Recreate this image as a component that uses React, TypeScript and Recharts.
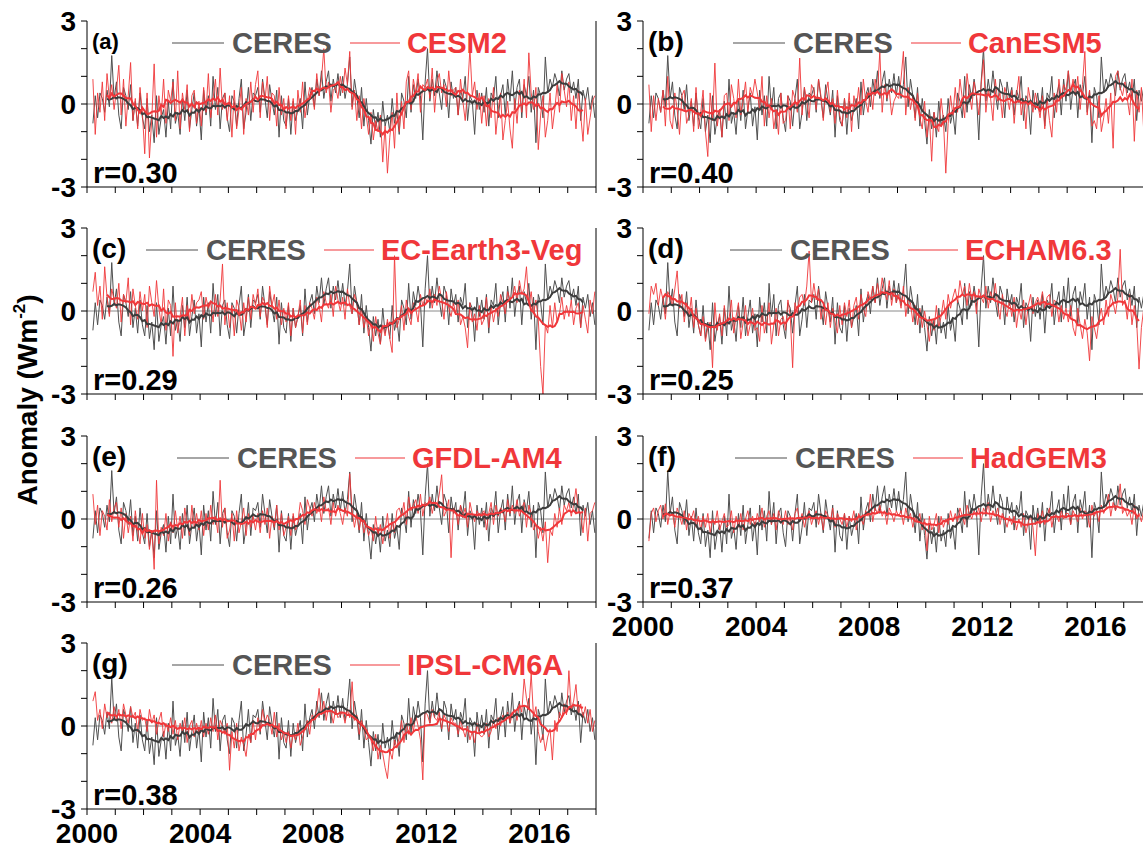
import { LineChart, Line, XAxis, YAxis, ReferenceLine } from "recharts"

// monthly anomalies, March 2000 .. December 2017
const START_YEAR = 2000
const START_MONTH = 3

const yearTicks = [
  2000, 2001, 2002, 2003, 2004, 2005, 2006, 2007, 2008, 2009, 2010, 2011, 2012,
  2013, 2014, 2015, 2016, 2017, 2018,
]
const yearLabels = [2000, 2004, 2008, 2012, 2016]
const anomalyTicks = [-3, -2, -1, 0, 1, 2, 3]
const anomalyLabels = [-3, 0, 3]

const panelLetters = ["(a)", "(b)", "(c)", "(d)", "(e)", "(f)", "(g)"]
const modelNames = ["CESM2", "CanESM5", "EC-Earth3-Veg", "ECHAM6.3", "GFDL-AM4", "HadGEM3", "IPSL-CM6A"]
const correlations = ["0.30", "0.40", "0.29", "0.25", "0.26", "0.37", "0.38"]

const ceres = [
  -0.7, 0.3, -0.5, 0.4, 0.2, -0.3, 0.5, -0.1, 1.75, 0.2,
  0.8, -0.4, -0.9, 0.6, 0.3, -0.2, 0.7, -0.6, 0.1, -0.8, 0.4, -0.5,
  -0.9, 0.2, -1.0, -0.4, -1.4, 0.3, -1.1, -0.5, -0.2, -1.2, 0.1, -0.9,
  0.9, -0.7, -0.3, -1.1, 0.2, -0.6, 0.5, -0.9, -0.2, 0.4, -0.8, -0.1,
  -1.3, 0.5, -0.4, 0.3, -0.8, 1.0, -0.2, 0.6, -0.9, 0.2, 0.4, -0.5,
  -1.0, 0.3, 0.1, -0.8, 0.2, 0.9, -0.9, -0.3, 0.6, -0.6, 0.4, 0.3,
  0.6, -0.3, 0.9, 0.2, -0.5, 0.7, 0.1, -0.4, 0.5, -1.2, 0.3, -0.6,
  -0.8, 0.2, -1.1, 0.1, -0.6, -0.2, 0.2, -0.9, 0.8, -0.4, 0.3, 0.6,
  -0.1, 0.9, 0.3, 1.2, 0.2, 0.8, 1.2, 0.1, 0.9, 0.4, 1.1, 0.3,
  1.0, 0.2, 0.7, 1.7, -0.1, 0.9, 0.3, -0.5, 0.6, -0.8, 0.2, -0.6,
  -1.45, -0.2, -0.9, -0.3, -1.2, 0.1, -0.8, -0.4, -1.0, 0.2, -0.7, -0.3,
  -1.1, 0.4, 0.1, -0.5, 1.0, -0.3, 0.7, 0.2, 0.9, 0.3, -1.3, 0.8,
  2.0, 0.1, 0.9, 0.3, 1.2, 0.4, -0.2, 0.9, 0.6, -0.5, 0.8, 0.2,
  0.6, -0.4, 0.5, 0.2, 1.0, -0.6, 0.3, 0.1, -1.1, 0.5, -0.2, 0.4,
  -0.3, 0.6, -0.8, 0.4, 0.2, 1.0, -0.5, 0.3, 0.7, -0.4, 0.9, 0.1,
  1.2, -0.2, 0.6, 0.9, -0.5, 0.7, 0.3, 1.0, -0.3, 0.5, -1.4, 0.6,
  0.3, -0.5, 1.7, 0.4, 0.9, 0.6, 1.1, 0.8, 0.3, 1.2, 0.5, 0.9,
  1.1, 0.4, 0.8, 0.2, 0.9, -0.6, 0.5, 0.1, 0.6, -0.2, 0.3, -0.5,
]

const cesm2 = [
  0.9, -1.1, 0.4, -0.3, 0.8, -0.6, 1.1, 0.2, 0.7, -0.2,
  0.5, 1.4, -0.4, 0.9, -0.8, 0.3, 1.5, -0.6, 0.2, -0.9, 0.6, -0.3,
  -1.8, 0.4, -1.95, -0.5, 1.45, -1.2, 0.3, -0.4, 0.9, -0.7, 0.5, 0.1,
  0.8, -0.6, 1.2, -0.9, 0.4, -0.2, 0.7, -1.0, 0.3, 0.5, -0.7, 0.1,
  -0.8, 0.6, -0.3, 1.1, -0.5, 0.2, 0.9, -0.4, 1.3, -0.2, 0.4, -0.6,
  0.3, -1.2, 0.5, -0.9, -0.2, 0.6, -1.1, 0.2, -0.4, 0.8, -0.3, 0.7,
  1.2, -0.5, 0.8, 0.1, 1.0, -0.6, 0.4, 0.3, -0.8, 0.6, -0.4, 0.2,
  -0.9, 0.3, -0.6, 0.2, -1.1, 0.5, -0.3, 0.8, -0.5, 0.1, 0.6, 0.4,
  -0.2, 1.1, 0.3, 0.9, 2.0, 0.4, 0.8, -0.3, 0.5, 0.6, 0.2, 1.0,
  0.4, 1.3, 0.7, 1.9, -0.2, 0.5, -0.6, 0.3, -0.9, 0.2, -0.4, -1.1,
  -0.3, -1.3, -0.6, -1.0, -0.4, -2.1, -0.8, -2.5, -1.2, -0.3, -1.6, 0.4,
  -1.0, 0.1, -0.9, 0.8, 1.2, -0.2, 0.9, 0.4, 1.1, -0.3, 0.7, 0.6,
  0.9, 0.2, 1.3, -0.3, 0.8, 1.1, 0.4, 0.7, -0.1, 1.2, 0.3, 0.5,
  0.6, -0.4, 0.9, 0.1, -0.6, 0.5, 2.0, 0.3, 0.8, -0.2, 0.4, -0.7,
  0.3, -0.8, 0.2, -0.5, 0.6, -1.1, -0.2, 0.4, -1.3, -0.6, 0.1, -0.9,
  -1.6, 0.2, -0.7, 0.5, -0.3, 0.9, -0.5, 1.85, 0.4, -0.2, 0.6, -1.65,
  -0.4, 0.3, -1.2, -0.6, 0.4, -0.9, -0.2, 0.7, -0.3, 1.1, 0.5, -0.1,
  0.8, -0.6, 0.3, -0.9, 0.5, -0.4, -1.35, 0.2, -1.1, -0.5, 0.1, 0.3,
]

const canesm5 = [
  0.7, -1.0, 0.3, -0.6, 0.2, -0.3, 0.5, -0.8, 1.0, -0.6,
  -0.9, 0.4, -0.2, -1.1, 0.3, 0.5, -0.7, -0.4, 0.2, -1.0, 0.6, -0.9,
  -0.3, 0.5, -1.0, -1.9, 0.4, -0.6, 1.48, -0.8, -0.2, -1.2, 0.3, 0.4,
  -0.6, 0.7, 0.2, -0.5, 0.9, -0.4, 0.1, 0.8, -0.3, 0.6, 0.3, 0.9,
  0.4, -0.2, 1.0, -0.8, 0.3, -0.5, 0.2, -0.9, -0.3, -1.1, 0.4, -0.7,
  -0.6, 0.3, -0.9, 0.5, 0.2, -0.3, 1.66, -0.4, 0.6, 0.1, -0.5, 0.7,
  0.5, -0.2, 0.9, 0.3, -0.6, 0.4, 0.8, -0.3, 0.2, -0.7, 0.5, -0.4,
  -0.8, 0.2, -0.5, 0.4, -1.0, 0.3, -0.2, 0.6, -0.4, 0.9, 0.1, -0.3,
  0.6, -0.2, 0.9, 0.4, 1.9, -0.3, 0.7, 0.2, 0.5, -0.4, 0.1, 0.3,
  0.2, 0.9, 1.9, -0.4, 0.6, -0.2, 0.3, -0.6, 0.4, -0.5, -0.9, 0.1,
  -1.2, -0.4, -2.07, -0.3, -0.8, -1.0, 0.2, -0.6, -2.5, -0.7, 0.3, -0.4,
  0.6, -0.3, 0.9, 0.2, -0.5, 1.1, 0.4, -0.2, 0.8, 0.3, -0.4, 0.7,
  1.6, -0.3, 0.5, 0.2, -0.6, 0.9, 0.1, 0.4, -0.5, 0.6, 0.3, -0.2,
  0.5, -0.7, 0.3, 1.0, -0.4, 0.2, -0.9, 0.6, 0.1, -0.3, 0.4, 0.0,
  -0.5, 0.3, -0.9, 0.2, -0.6, -1.2, 0.4, -0.3, 0.9, 0.2, 0.7, 0.5,
  1.2, 0.4, 0.9, 0.3, 1.0, -0.2, 0.7, 1.9, -0.4, 0.5, -0.8, -0.6,
  -0.9, 0.3, -1.0, -0.5, 0.2, -0.7, 0.4, -1.6, 1.0, 1.2, 0.6, 0.3,
  0.8, 0.2, -0.4, 0.9, -1.35, 0.5, -0.3, 0.6, -1.0, -0.8, -0.9, -0.6,
]

const ecEarth3Veg = [
  0.7, 1.4, 0.2, 0.9, -0.3, 1.6, 0.5, -0.2, 0.8, 0.4,
  0.1, 1.0, -0.4, 0.6, 0.3, 1.2, -0.5, 0.8, 0.2, -0.3, 0.7, 0.0,
  0.6, -0.6, 0.9, 0.3, -0.2, 1.1, 0.1, -0.5, 0.8, -0.7, 0.4, 0.2,
  -1.64, 0.3, -0.8, -0.2, 0.5, -0.9, 0.2, -0.4, 0.6, -0.1, 0.3, 0.4,
  0.7, -0.3, 0.5, 0.1, 0.3, -0.4, 0.6, -0.2, 0.4, 1.7, -0.5, 0.3,
  -0.6, 0.2, -0.9, 0.4, 0.1, -0.7, 0.3, -0.4, 0.5, -0.3, 0.6, 0.2,
  0.8, -0.2, 0.5, 0.3, -0.6, 0.9, 0.2, 0.6, -0.3, 0.4, -0.5, 0.1,
  -0.4, 0.3, -0.9, 0.1, -0.6, -0.2, 0.4, -0.8, 0.2, -0.5, 0.3, 0.1,
  -0.3, 0.5, 0.2, -0.4, 0.7, 0.3, 0.1, 0.6, -0.2, 0.9, 0.4, 0.0,
  0.5, -0.3, 0.8, 0.2, -0.1, 0.6, 0.3, -0.5, 0.1, -0.6, -0.2, -0.9,
  -0.4, -1.1, -0.2, -0.8, -1.2, -0.5, -0.9, -0.3, -1.0, -1.5, 2.0, -0.6,
  -0.3, 0.2, -0.7, 0.4, -0.2, -0.5, 0.3, 0.1, -0.4, 0.6, 0.2, 0.5,
  0.3, 0.8, 0.1, 0.6, 0.2, 0.9, 0.4, -0.3, 0.7, 0.1, -0.2, 0.3,
  -0.1, 0.4, -0.5, -0.2, -0.6, -1.33, 0.3, -0.4, -0.1, -0.7, 0.2, -0.5,
  -0.3, 0.5, -0.6, 0.2, -0.4, 0.1, -0.2, 0.6, 0.3, -0.1, 0.7, 0.4,
  0.5, 0.9, 0.3, 1.1, 0.6, 0.8, 1.6, 0.2, 0.7, -0.1, 0.4, -0.3,
  -2.0, -3.0, -0.5, -0.8, 0.2, -0.6, 0.3, -0.4, -0.1, 0.5, -0.3, 0.2,
  -0.2, 0.4, -0.5, 0.1, 0.3, -0.6, 0.2, -0.3, -0.8, 0.4, -0.1, 0.7,
]

const echam63 = [
  -0.1, 0.9, 0.6, 1.0, 0.2, 0.8, 0.4, -0.3, 0.7, 0.5,
  0.2, 0.8, 1.45, 0.1, 0.6, -0.4, 0.3, -0.2, 0.5, -0.6, 0.1, -0.5,
  -0.9, -0.2, -1.1, -0.6, -0.4, -2.05, 0.3, -0.7, -0.1, -0.9, 0.2, -0.5,
  -0.3, 0.4, -0.8, -0.2, 0.3, -1.0, -0.4, 0.2, -0.9, -0.5, 0.1, -0.7,
  -0.6, -1.1, 0.2, -0.8, -0.4, 0.3, -1.2, -0.5, 0.1, -0.9, -0.3, -0.2,
  -0.7, 0.4, -0.2, -2.05, 0.3, -0.1, 0.5, 0.6, 0.2, 0.9, 2.17, 0.3,
  1.0, 0.4, 0.8, -0.3, 0.2, -0.5, 0.3, -0.6, 0.1, -0.4, -0.8, 0.2,
  -0.5, 0.3, -0.2, 0.4, -0.6, 0.2, 0.5, -0.3, 0.6, 0.1, -0.2, 0.7,
  0.4, 0.9, 0.3, 1.0, 0.5, 1.2, 0.7, 0.4, 1.1, 0.2, 0.8, 0.3,
  0.6, 0.1, 0.9, -0.2, 0.4, 0.3, -0.4, 0.2, -0.5, 0.1, -0.6, 0.0,
  -0.5, -1.1, -0.3, -0.7, 0.2, -0.6, -0.2, 0.4, -0.3, 0.6, 0.1, 0.5,
  0.8, 0.3, 1.1, 0.6, 0.9, 0.2, 1.0, 0.4, 0.7, -0.1, 0.8, 0.5,
  0.3, 0.9, 0.1, 0.7, 0.4, 1.0, 0.2, -0.3, 0.6, 0.1, -0.2, 0.4,
  -0.2, 0.5, -0.6, 0.1, -0.3, 0.4, -0.5, 0.2, 0.6, -0.1, 0.3, 0.5,
  0.2, 0.7, 0.1, 0.5, 0.6, -0.2, 0.4, 0.3, -0.4, 0.2, -0.3, 0.1,
  -0.4, 0.2, -0.6, -0.9, 0.1, -0.5, -1.0, -0.3, -0.8, -1.8, -0.2, -0.6,
  -1.0, -0.3, 0.1, -0.5, 0.4, -0.2, 0.6, 0.3, -0.1, 0.5, 2.23, 0.2,
  0.4, -0.3, 0.6, -0.5, 0.2, -0.4, -2.1, -0.6, 0.1, -0.5, -0.3, -0.9,
]

const gfdlAm4 = [
  0.9, -0.2, 0.5, -0.6, 0.3, 0.1, -0.4, 0.7, -0.1, 0.4,
  0.6, -0.3, 0.4, -0.7, 0.2, -0.5, 0.1, -0.8, 0.3, -0.4, -0.9, 0.2,
  -0.7, -0.2, -1.1, -0.4, -1.82, 1.4, -0.9, -0.3, -0.6, 0.2, -0.8, -0.1,
  -0.5, 0.3, -0.4, 0.1, -0.7, 0.4, -0.2, -0.6, 0.5, -0.3, 0.2, -0.4,
  0.3, -0.6, 0.2, -0.4, 0.5, -0.2, 0.1, -0.5, 1.4, -0.3, 0.4, -0.7,
  -0.4, 0.2, -0.8, 0.3, -0.5, -0.1, 0.4, -0.6, 0.2, -0.3, 0.1, -0.4,
  0.2, -0.5, 0.3, -0.2, 0.4, -0.7, 0.1, -0.3, 0.5, -0.4, 0.2, -0.6,
  -0.3, 0.1, -0.6, 0.2, -0.4, -0.1, 0.6, 0.3, -0.2, 0.7, 0.4, 0.1,
  0.6, 0.2, 0.5, -0.1, 0.8, 0.3, 0.4, -0.2, 0.6, 0.1, 0.5, 0.2,
  -0.2, 0.4, 0.1, 1.64, 0.3, -0.3, 0.2, -0.4, 0.1, -0.5, -0.2, -0.6,
  -0.3, -0.8, 0.1, -0.6, -0.2, -0.9, -0.4, 0.2, -0.7, -0.1, -0.5, 0.3,
  0.4, 0.1, 0.6, -0.2, 0.8, 0.3, 0.5, 0.7, 0.2, 0.9, 0.1, 0.6,
  0.5, 0.8, 0.2, 0.6, 0.4, 0.9, 1.6, 0.1, 0.3, 0.7, -1.4, 0.4,
  0.3, -0.2, 0.5, 0.1, 0.4, -0.3, 0.6, 0.2, -0.1, 0.3, 0.1, 0.2,
  0.3, -0.4, 0.2, 0.6, -0.2, 0.5, 0.1, 0.4, 0.3, -0.1, 0.7, 0.2,
  0.5, 0.2, 0.7, 0.1, 0.4, 0.6, -0.3, 0.5, 0.2, -0.4, -0.2, -0.7,
  -0.3, -0.8, -0.1, -1.58, -0.4, -0.6, 0.2, -0.3, 0.4, -0.2, 0.5, 0.3,
  0.6, 0.1, 0.5, 1.1, 0.3, 0.2, -0.5, 0.4, -0.8, 0.2, 0.3, 0.6,
]

const hadgem3 = [
  -0.8, 0.2, 0.4, -0.1, 0.3, 0.5, 0.0, 0.55, -0.2, 0.3,
  0.2, -0.3, 0.4, 0.1, -0.2, 0.3, -0.4, 0.2, 0.0, 0.3, -0.3, 0.1,
  -0.4, 0.1, -0.3, 0.2, -0.5, 0.0, -0.2, 0.3, -0.4, -0.1, 0.2, -0.3,
  -0.2, 0.3, -0.5, 0.1, -0.3, 0.2, -0.4, 0.0, 0.3, -0.2, 0.1, -0.3,
  0.2, -0.1, 0.4, -0.3, 0.1, 0.3, -0.2, 0.2, -0.4, 0.3, 0.0, -0.2,
  0.3, -0.2, 0.1, -0.4, 0.2, 0.4, -0.1, 0.2, -0.3, 0.1, 0.3, -0.2,
  0.1, 0.3, -0.2, 0.2, -0.4, 0.3, 0.1, -0.1, 0.4, -0.3, 0.2, 0.0,
  -0.2, 0.2, -0.3, 0.1, -0.1, 0.3, -0.4, 0.2, 0.0, -0.2, 0.3, 0.1,
  0.9, -0.1, 0.4, 0.2, 0.5, 0.1, 0.3, -0.2, 0.4, 0.2, -0.1, 0.3,
  0.1, 0.3, -0.2, 0.4, 0.0, 0.2, -0.3, 0.1, -0.1, 0.2, -0.4, 0.0,
  -1.15, 0.1, -0.4, -0.2, 0.2, -0.5, 0.1, -0.3, 0.0, -0.2, 0.3, -0.1,
  0.2, -0.1, 0.4, 0.1, -0.2, 0.5, 0.2, 0.0, 0.3, 0.1, 0.4, -0.1,
  0.4, 0.2, 0.6, -0.1, 0.3, 0.1, 0.4, -0.2, 0.2, 0.0, -0.3, 0.1,
  -0.2, 0.1, -0.4, 0.0, -0.3, 0.2, -0.5, -0.1, 0.1, -0.3, -1.33, 0.2,
  -0.1, 0.3, -0.2, 0.1, 0.4, -0.3, 0.2, 0.1, -0.1, 0.3, 0.0, 0.2,
  0.2, -0.2, 0.3, 0.1, -0.1, 0.4, 0.0, 0.3, 0.2, -0.3, 0.5, 0.1,
  0.3, -0.1, 0.5, 0.2, 0.4, 0.9, 0.1, 0.6, 0.3, 0.5, 1.27, 0.2,
  0.4, 0.1, 0.3, -0.2, 0.5, 0.0, 0.2, -0.1, 0.3, -0.2, 0.0, -0.1,
]

const ipslCm6a = [
  0.9, 1.24, 0.2, 0.6, -0.1, 0.8, 0.3, 0.5, 0.1, 0.7,
  0.2, 0.6, -0.1, 0.8, 0.4, 0.1, 0.7, 0.3, 0.5, -0.2, 0.6, 0.2,
  0.3, -0.2, 0.6, 0.1, 0.4, -0.3, 0.2, 0.5, -0.4, 0.1, -0.2, 0.3,
  -0.3, 0.2, -0.5, 0.1, -0.2, 0.3, -0.6, 0.0, 0.2, -0.4, 0.1, -0.3,
  0.2, -0.4, 0.1, -0.3, 0.3, -0.2, 0.4, -0.5, 0.2, 0.0, -0.3, 0.1,
  -1.6, -0.2, -0.8, 0.1, -0.9, -0.4, -0.7, -1.1, -0.3, -0.6, 0.2, -0.5,
  0.3, -0.2, 0.6, 0.1, 0.4, 0.2, -0.3, 0.5, -0.4, 0.1, -0.5, -0.2,
  -0.6, -0.2, -0.8, -0.3, -0.5, 0.1, -0.7, -0.4, -0.1, 0.2, -0.3, 0.4,
  0.3, 0.6, 1.36, 0.4, 0.9, 0.2, 0.7, 0.5, 0.1, 0.6, 0.3, 0.4,
  0.5, 0.1, 0.6, 0.3, 1.6, 0.2, 0.4, -0.3, 0.2, -0.1, -0.5, -0.4,
  -0.5, -0.9, -0.3, -1.2, -0.7, -1.0, -1.5, -1.9, -0.9, -1.2, -0.5, -0.8,
  -0.4, 0.2, -0.6, 0.1, -0.3, 0.3, -0.2, 0.4, 0.0, -0.5, -1.95, 0.5,
  0.4, 0.1, 0.6, 0.3, 0.2, 0.5, -0.1, 0.4, 0.2, -0.2, 0.3, 0.1,
  0.1, -0.3, 0.2, -0.1, -0.4, 0.0, -0.5, -0.2, -0.6, 0.1, -0.3, -0.4,
  -0.3, 0.1, -0.4, -0.2, 0.2, -0.1, 0.3, 0.0, 0.4, 0.2, 0.5, 0.1,
  0.4, 0.6, 0.2, 0.8, 0.5, 1.7, 1.0, 0.6, 1.9, 0.3, 0.7, -0.2,
  -0.6, -0.3, -0.9, -0.4, -0.1, -1.23, 0.2, -0.2, 0.5, 0.3, 0.8, 0.4,
  2.0, 0.6, 0.9, 1.5, 0.4, 0.8, 0.3, 0.7, 0.1, 0.6, -0.2, 0.2,
]

const modelSeries = [cesm2, canesm5, ecEarth3Veg, echam63, gfdlAm4, hadgem3, ipslCm6a]

// layout (page pixels)
const PLOT_W = 509
const PLOT_H = 166
const COL_LEFT = [87, 643]
const ROW_TOP = [21, 228, 436, 643]
const LEGEND_X = [85, 90, 59, 87, 90, 92, 85]
const Y_AXIS_W = 60
const RIGHT_AXIS_W = 14
const PAD_TOP = 18
const X_AXIS_H = 48
const CHART_W = Y_AXIS_W + PLOT_W + RIGHT_AXIS_W + 2
const CHART_H = PAD_TOP + PLOT_H + X_AXIS_H

const GREY = "#4f4f4f"
const RED = "#f0373a"
const FONT = "'Liberation Sans', Arial, Helvetica, sans-serif"

// 12-month running mean, centred
function runningMean(values: number[]) {
  return values.map((_, i) => {
    if (i < 6 || i > values.length - 6) return null
    const win = values.slice(i - 6, i + 6)
    return win.reduce((s, v) => s + v, 0) / win.length
  })
}

function buildRows(model: number[]) {
  const obsS = runningMean(ceres)
  const modS = runningMean(model)
  return ceres.map((v, i) => ({
    t: START_YEAR + (START_MONTH - 1 + i + 0.5) / 12,
    obs: v,
    mod: model[i],
    obsS: obsS[i],
    modS: modS[i],
  }))
}

function Panel({ index }: { index: number }) {
  const left = COL_LEFT[index % 2]
  const top = ROW_TOP[Math.floor(index / 2)]
  const showYears = index >= 5
  const rows = buildRows(modelSeries[index])
  const yTickFont = { fill: "#000", fontSize: 28, fontWeight: 700, fontFamily: FONT }
  const xTickFont = { fill: "#000", fontSize: 28, fontWeight: 700, fontFamily: FONT }

  return (
    <>
      <div style={{ position: "absolute", left: left - Y_AXIS_W, top: top - PAD_TOP }}>
        <LineChart
          width={CHART_W}
          height={CHART_H}
          data={rows}
          margin={{ top: PAD_TOP, right: 2, bottom: 0, left: 0 }}
        >
          <XAxis
            dataKey="t"
            type="number"
            domain={[2000, 2018]}
            ticks={yearTicks}
            interval={0}
            allowDataOverflow
            height={X_AXIS_H}
            tickSize={6}
            tickMargin={8}
            stroke="#000"
            tick={xTickFont}
            tickFormatter={(v: number) => (showYears && yearLabels.includes(v) ? String(v) : "")}
          />
          <XAxis
            xAxisId="top"
            orientation="top"
            dataKey="t"
            type="number"
            domain={[2000, 2018]}
            height={0}
            tick={false}
            tickLine={false}
            stroke="#000"
          />
          <YAxis
            type="number"
            domain={[-3, 3]}
            ticks={anomalyTicks}
            interval={0}
            allowDataOverflow
            width={Y_AXIS_W}
            tickSize={6}
            tickMargin={5}
            stroke="#000"
            tick={yTickFont}
            tickFormatter={(v: number) => (anomalyLabels.includes(v) ? String(v) : "")}
          />
          <YAxis
            yAxisId="right"
            orientation="right"
            type="number"
            domain={[-3, 3]}
            ticks={anomalyTicks}
            interval={0}
            width={RIGHT_AXIS_W}
            tickSize={6}
            stroke="#000"
            tickFormatter={() => ""}
          />
          <ReferenceLine y={0} stroke="#8a8a8a" strokeWidth={1} />
          <Line dataKey="obs" stroke={GREY} strokeWidth={1} dot={false} activeDot={false} isAnimationActive={false} />
          <Line dataKey="mod" stroke={RED} strokeWidth={1} strokeOpacity={0.9} dot={false} activeDot={false} isAnimationActive={false} />
          <Line dataKey="obsS" stroke="#3c3c3c" strokeWidth={2} dot={false} activeDot={false} isAnimationActive={false} />
          <Line dataKey="modS" stroke={RED} strokeWidth={2} dot={false} activeDot={false} isAnimationActive={false} />
        </LineChart>
      </div>

      <div
        style={{
          position: "absolute",
          left: left + 5,
          top: top + 21,
          transform: "translateY(-50%)",
          fontSize: index === 0 ? 22 : 28,
          fontWeight: 700,
          lineHeight: 1,
        }}
      >
        {panelLetters[index]}
      </div>

      <div
        style={{
          position: "absolute",
          left: left + LEGEND_X[index],
          top: top + 22,
          transform: "translateY(-50%)",
          display: "flex",
          alignItems: "center",
          whiteSpace: "nowrap",
          fontSize: 29,
          fontWeight: 700,
          lineHeight: 1,
        }}
      >
        <span style={{ width: 52, borderTop: `1.5px solid ${GREY}`, marginRight: 8 }} />
        <span style={{ color: "#555" }}>CERES</span>
        <span style={{ width: 50, borderTop: `1.5px solid ${RED}`, marginLeft: 18, marginRight: 7 }} />
        <span style={{ color: RED }}>{modelNames[index]}</span>
      </div>

      <div
        style={{
          position: "absolute",
          left: left + 6,
          top: top + 152,
          transform: "translateY(-50%)",
          fontSize: 29,
          fontWeight: 700,
          lineHeight: 1,
        }}
      >
        r={correlations[index]}
      </div>
    </>
  )
}

export default function App() {
  return (
    <div
      style={{
        position: "absolute",
        left: 0,
        top: 0,
        width: 1143,
        height: 850,
        overflow: "hidden",
        background: "#fff",
        fontFamily: FONT,
        color: "#000",
      }}
    >
      {modelNames.map((_, i) => (
        <Panel key={i} index={i} />
      ))}
      <div
        style={{
          position: "absolute",
          left: 27,
          top: 400,
          transform: "translate(-50%, -50%) rotate(-90deg)",
          fontSize: 28,
          fontWeight: 700,
          whiteSpace: "nowrap",
          lineHeight: 1,
        }}
      >
        Anomaly (Wm<sup style={{ fontSize: "0.6em", verticalAlign: "0.7em" }}>-2</sup>)
      </div>
    </div>
  )
}
